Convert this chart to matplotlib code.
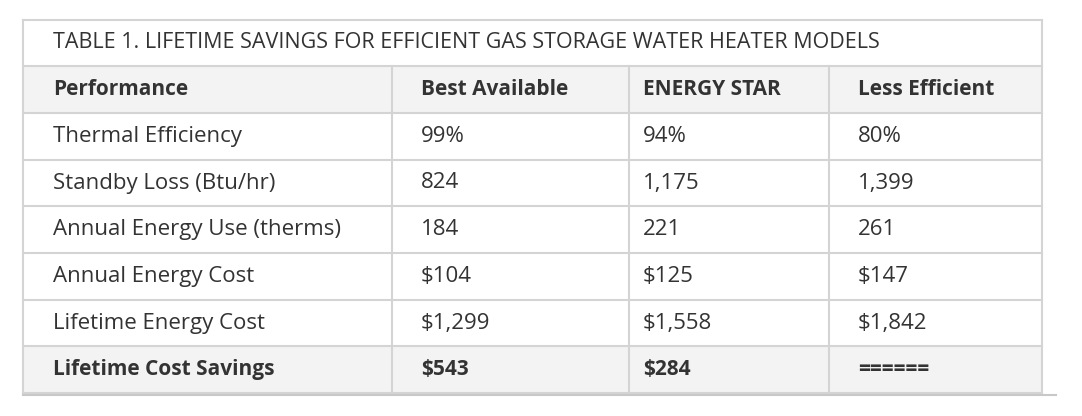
import matplotlib.pyplot as plt
from matplotlib.patches import Rectangle

title = "TABLE 1. LIFETIME SAVINGS FOR EFFICIENT GAS STORAGE WATER HEATER MODELS"
columns = ["Performance", "Best Available", "ENERGY STAR", "Less Efficient"]
row_labels = ["Thermal Efficiency", "Standby Loss (Btu/hr)", "Annual Energy Use (therms)",
              "Annual Energy Cost", "Lifetime Energy Cost", "Lifetime Cost Savings"]
best_available = ["99%", "824", "184", "$104", "$1,299", "$543"]
energy_star = ["94%", "1,175", "221", "$125", "$1,558", "$284"]
less_efficient = ["80%", "1,399", "261", "$147", "$1,842", "======"]

plt.rcParams["font.family"] = "Open Sans"
fig = plt.figure(figsize=(10.82, 4.16), dpi=100)
ax = fig.add_axes([0, 0, 1, 1])
ax.set_xlim(0, 1082)
ax.set_ylim(416, 0)
ax.axis('off')

left, right = 23, 1042
col_x = [23, 392, 629, 829, 1042]
text_x = [53, 421, 643, 858]
row_y = [20, 66, 113, 160, 206, 253, 300, 346, 393]
line_c = '#d4d4d4'
grey = '#f3f3f3'
txt_c = '#333333'

# backgrounds
ax.add_patch(Rectangle((left, row_y[1]), right - left, row_y[2] - row_y[1], fc=grey, ec='none'))
ax.add_patch(Rectangle((left, row_y[7]), right - left, row_y[8] - row_y[7], fc=grey, ec='none'))

# grid lines
for y in row_y:
    ax.plot([left, right], [y, y], color=line_c, lw=1.5)
ax.plot([left, 1056], [row_y[-1] + 2, row_y[-1] + 2], color='#c8c8c8', lw=1.5)
ax.plot([left, left], [row_y[0], row_y[-1]], color=line_c, lw=1.5)
ax.plot([right, right], [row_y[0], row_y[-1]], color=line_c, lw=1.5)
for x in col_x[1:4]:
    ax.plot([x, x], [row_y[1], row_y[-1]], color=line_c, lw=1.5)

ax.text(text_x[0], (row_y[0] + row_y[1]) / 2, title, fontsize=15.5, color=txt_c, va='center')
for j, c in enumerate(columns):
    ax.text(text_x[j], (row_y[1] + row_y[2]) / 2, c, fontsize=15, weight='bold', color=txt_c, va='center')

cols = [row_labels, best_available, energy_star, less_efficient]
for i in range(len(row_labels)):
    yc = (row_y[i + 2] + row_y[i + 3]) / 2
    bold = i == len(row_labels) - 1
    for j, col in enumerate(cols):
        ax.text(text_x[j], yc, col[i], fontsize=15 if bold else 16, color=txt_c, va='center',
                weight='bold' if bold else 'normal')

fig.savefig('out.png', dpi=100, facecolor='white')
